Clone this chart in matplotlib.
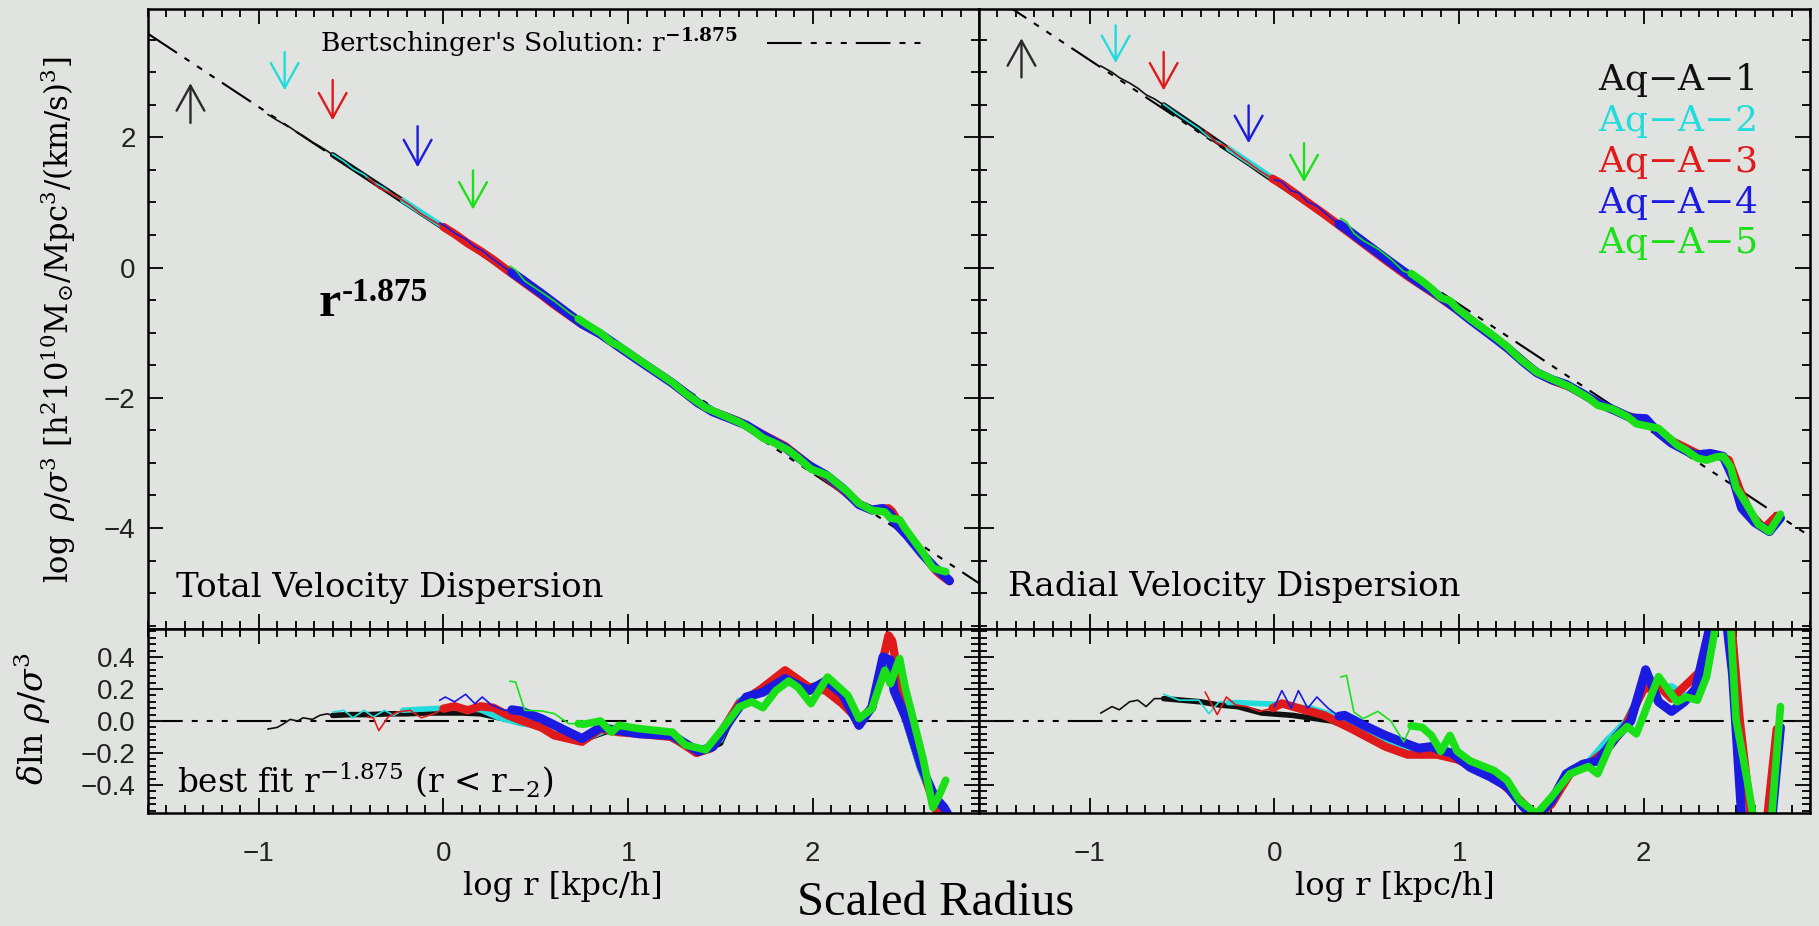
import matplotlib
matplotlib.use('Agg')
import matplotlib.pyplot as plt
import numpy as np
from matplotlib.ticker import MultipleLocator, FuncFormatter

plt.rcParams['font.family'] = 'DejaVu Serif'
plt.rcParams['mathtext.fontset'] = 'dejavuserif'
plt.rcParams['lines.scale_dashes'] = False

BG = '#e1e3e0'
COLORS = ['#101010', '#22dcdc', '#e01a1a', '#1a1ae0', '#1ae01a']
NAMES = [r'$\mathrm{Aq{-}A{-}1}$', r'$\mathrm{Aq{-}A{-}2}$', r'$\mathrm{Aq{-}A{-}3}$',
         r'$\mathrm{Aq{-}A{-}4}$', r'$\mathrm{Aq{-}A{-}5}$']
THICK_LW = [4.0, 4.0, 6.0, 6.5, 5.5]

# Bertschinger self-similar slope and normalisation at log r = 0 (total, radial)
SLOPE = -1.875
FIT_NORM = [0.59, 1.31]

# convergence radii and arrow ends (tail, head) in log rho/sigma^3
CONV_LOGR = [-1.37, -0.86, -0.60, -0.14, 0.16]
ARROW_TOT = [(2.22, 2.83), (3.31, 2.72), (2.88, 2.26), (2.17, 1.54), (1.49, 0.89)]
ARROW_RAD = [(2.92, 3.52), (3.72, 3.14), (3.31, 2.72), (2.49, 1.91), (1.91, 1.31)]

# residuals delta ln(rho/sigma^3) about the best fit, total velocity dispersion
tot_x_a1 = [-0.95, -0.90, -0.87, -0.83, -0.79, -0.76, -0.71, -0.67, -0.63, -0.60,
            -0.50, -0.40, -0.30, -0.20, -0.10, 0.00, 0.10, 0.20, 0.30, 0.40,
            0.50, 0.60, 0.75, 0.90, 1.05, 1.20, 1.30, 1.40, 1.50, 1.60,
            1.70, 1.80, 1.87, 1.95, 2.05, 2.15, 2.25, 2.32, 2.38, 2.43,
            2.50, 2.58, 2.65, 2.72]
tot_res_a1 = [-0.05, -0.04, -0.02, 0.01, 0.00, 0.02, 0.01, 0.035, 0.045, 0.035,
              0.04, 0.04, 0.045, 0.045, 0.05, 0.05, 0.05, 0.045, 0.02, 0.00,
              -0.03, -0.08, -0.12, -0.06, -0.07, -0.09, -0.15, -0.19, -0.14, 0.12,
              0.17, 0.24, 0.26, 0.20, 0.24, 0.16, -0.02, 0.08, 0.38, 0.30,
              0.00, -0.30, -0.50, -0.55]
tot_x_a2 = [-0.60, -0.54, -0.49, -0.43, -0.38, -0.32, -0.27, -0.22, -0.10, 0.00,
            0.10, 0.20, 0.30, 0.42, 0.50, 0.60, 0.75, 0.90, 1.05, 1.20,
            1.30, 1.40, 1.50, 1.60, 1.70, 1.80, 1.87, 1.95, 2.05, 2.15,
            2.25, 2.32, 2.38, 2.43, 2.50, 2.58, 2.65, 2.72]
tot_res_a2 = [0.055, 0.067, 0.02, 0.067, 0.025, 0.067, 0.035, 0.067, 0.075, 0.08,
              0.08, 0.07, 0.02, -0.017, -0.03, -0.08, -0.12, -0.05, -0.07, -0.09,
              -0.14, -0.18, -0.12, 0.13, 0.17, 0.25, 0.26, 0.20, 0.23, 0.16,
              -0.04, 0.08, 0.37, 0.30, 0.00, -0.30, -0.50, -0.55]
tot_x_a3 = [-0.41, -0.38, -0.35, -0.30, -0.25, -0.18, -0.12, -0.05, 0.00, 0.06,
            0.13, 0.20, 0.27, 0.35, 0.42, 0.53, 0.60, 0.75, 0.85, 0.95,
            1.06, 1.24, 1.37, 1.45, 1.60, 1.72, 1.85, 1.98, 2.07, 2.16,
            2.25, 2.32, 2.41, 2.43, 2.46, 2.53, 2.60, 2.66, 2.69, 2.74]
tot_res_a3 = [0.025, 0.02, -0.06, 0.025, 0.056, 0.067, 0.02, 0.046, 0.077, 0.092,
              0.067, 0.092, 0.083, 0.035, 0.004, -0.04, -0.09, -0.13, -0.05, -0.07,
              -0.08, -0.10, -0.20, -0.17, 0.108, 0.20, 0.317, 0.21, 0.19, 0.108,
              0.004, 0.08, 0.535, 0.50, 0.30, 0.004, -0.31, -0.54, -0.60, -0.62]
tot_x_a4 = [-0.02, 0.01, 0.06, 0.12, 0.17, 0.21, 0.26, 0.33, 0.37, 0.42,
            0.53, 0.64, 0.75, 0.85, 0.95, 1.06, 1.24, 1.38, 1.46, 1.55,
            1.64, 1.73, 1.85, 1.98, 2.07, 2.16, 2.25, 2.32, 2.38, 2.42,
            2.44, 2.51, 2.59, 2.66, 2.71, 2.74]
tot_res_a4 = [0.13, 0.15, 0.12, 0.167, 0.108, 0.15, 0.10, 0.067, 0.07, 0.062,
              0.015, -0.048, -0.11, -0.04, -0.06, -0.08, -0.09, -0.19, -0.16, 0.00,
              0.15, 0.18, 0.265, 0.19, 0.25, 0.17, -0.027, 0.087, 0.40, 0.38,
              0.19, 0.004, -0.29, -0.475, -0.54, -0.60]
tot_x_a5 = [0.36, 0.39, 0.44, 0.53, 0.60, 0.68, 0.73, 0.76, 0.85, 0.91,
            0.95, 1.06, 1.24, 1.31, 1.42, 1.49, 1.60, 1.67, 1.73, 1.80,
            1.87, 1.92, 1.99, 2.08, 2.19, 2.25, 2.32, 2.39, 2.42, 2.47,
            2.50, 2.55, 2.60, 2.65, 2.68, 2.72]
tot_res_a5 = [0.248, 0.244, 0.067, 0.063, 0.046, -0.017, -0.017, -0.02, 0.00, -0.07,
              -0.027, -0.048, -0.07, -0.15, -0.18, -0.08, 0.087, 0.12, 0.083, 0.19,
              0.25, 0.21, 0.108, 0.275, 0.16, 0.015, 0.077, 0.317, 0.233, 0.39,
              0.21, -0.017, -0.25, -0.54, -0.475, -0.37]
TOT_THICK_FROM = [-0.60, -0.22, 0.00, 0.37, 0.73]

# same for the radial velocity dispersion
rad_x_a1 = [-0.94, -0.88, -0.84, -0.785, -0.74, -0.695, -0.65, -0.60, -0.50, -0.40,
            -0.30, -0.20, -0.07, 0.10, 0.31, 0.42, 0.60, 0.72, 0.85, 1.00,
            1.10, 1.20, 1.30, 1.42, 1.50, 1.60, 1.70, 1.80, 1.90, 2.00,
            2.08, 2.15, 2.25, 2.34, 2.40, 2.46, 2.52, 2.58, 2.65, 2.72]
rad_res_a1 = [0.05, 0.09, 0.07, 0.12, 0.13, 0.09, 0.14, 0.14, 0.13, 0.12,
              0.10, 0.09, 0.05, 0.035, 0.00, -0.05, -0.14, -0.19, -0.20, -0.25,
              -0.30, -0.36, -0.46, -0.60, -0.50, -0.32, -0.26, -0.12, -0.02, 0.22,
              0.20, 0.20, 0.15, 0.30, 0.70, 0.80, 0.00, -0.60, -0.80, -0.05]
rad_x_a2 = [-0.60, -0.515, -0.41, -0.355, -0.30, -0.25, -0.20, -0.10, 0.00, 0.10,
            0.20, 0.31, 0.42, 0.60, 0.72, 0.88, 1.00, 1.10, 1.20, 1.30,
            1.42, 1.50, 1.60, 1.70, 1.80, 1.90, 2.00, 2.08, 2.15, 2.25,
            2.34, 2.40, 2.46, 2.52, 2.58, 2.65, 2.72]
rad_res_a2 = [0.167, 0.13, 0.13, 0.046, 0.12, 0.115, 0.115, 0.11, 0.105, 0.09,
              0.08, 0.04, -0.03, -0.13, -0.18, -0.20, -0.24, -0.30, -0.36, -0.46,
              -0.60, -0.50, -0.30, -0.25, -0.12, 0.00, 0.22, 0.20, 0.22, 0.15,
              0.30, 0.70, 0.80, 0.00, -0.60, -0.80, -0.05]
rad_x_a3 = [-0.375, -0.31, -0.26, -0.21, -0.15, -0.08, -0.01, 0.04, 0.13, 0.27,
            0.42, 0.60, 0.72, 0.88, 0.99, 1.10, 1.20, 1.30, 1.42, 1.50,
            1.60, 1.70, 1.80, 1.90, 2.00, 2.08, 2.15, 2.26, 2.34, 2.40,
            2.46, 2.52, 2.58, 2.65, 2.72]
rad_res_a3 = [0.18, 0.04, 0.15, 0.10, 0.09, 0.06, 0.08, 0.11, 0.08, 0.035,
              -0.05, -0.16, -0.21, -0.21, -0.24, -0.30, -0.36, -0.46, -0.60, -0.52,
              -0.33, -0.27, -0.18, -0.03, 0.20, 0.22, 0.14, 0.26, 0.35, 0.70,
              0.80, 0.00, -0.60, -0.80, -0.05]
rad_x_a4 = [0.00, 0.04, 0.09, 0.13, 0.18, 0.23, 0.29, 0.35, 0.38, 0.49,
            0.60, 0.71, 0.78, 0.85, 0.89, 0.96, 1.06, 1.17, 1.26, 1.35,
            1.42, 1.50, 1.58, 1.67, 1.75, 1.85, 1.93, 2.01, 2.08, 2.15,
            2.22, 2.28, 2.36, 2.43, 2.48, 2.53, 2.60, 2.68, 2.74]
rad_res_a4 = [0.09, 0.19, 0.08, 0.19, 0.08, 0.15, 0.08, 0.03, 0.035, -0.03,
              -0.09, -0.14, -0.17, -0.16, -0.18, -0.20, -0.29, -0.35, -0.41, -0.54,
              -0.60, -0.50, -0.33, -0.27, -0.25, -0.10, 0.00, 0.32, 0.12, 0.06,
              0.12, 0.20, 0.60, 0.80, 0.30, -0.60, -0.80, -0.78, -0.04]
rad_x_a5 = [0.36, 0.39, 0.43, 0.48, 0.56, 0.63, 0.70, 0.74, 0.80, 0.85,
            0.90, 0.95, 0.99, 1.06, 1.19, 1.26, 1.33, 1.42, 1.50, 1.60,
            1.70, 1.75, 1.83, 1.91, 1.96, 2.08, 2.18, 2.23, 2.29, 2.34,
            2.39, 2.43, 2.47, 2.50, 2.56, 2.62, 2.68, 2.74]
rad_res_a5 = [0.275, 0.285, 0.056, 0.015, 0.06, 0.00, -0.13, -0.03, -0.04, -0.09,
              -0.19, -0.09, -0.19, -0.25, -0.31, -0.37, -0.50, -0.58, -0.475, -0.33,
              -0.285, -0.33, -0.12, -0.035, -0.08, 0.277, 0.12, 0.15, 0.13, 0.277,
              0.60, 0.80, 0.60, 0.006, -0.37, -0.78, -0.78, 0.09]
RAD_THICK_FROM = [-0.60, -0.25, -0.01, 0.35, 0.74]

TOT = [(tot_x_a1, tot_res_a1), (tot_x_a2, tot_res_a2), (tot_x_a3, tot_res_a3),
       (tot_x_a4, tot_res_a4), (tot_x_a5, tot_res_a5)]
RAD = [(rad_x_a1, rad_res_a1), (rad_x_a2, rad_res_a2), (rad_x_a3, rad_res_a3),
       (rad_x_a4, rad_res_a4), (rad_x_a5, rad_res_a5)]

# long dash followed by three short ones
DASH = (0, (25, 6.5, 4.3, 6.5, 4.3, 6.5, 4.3, 6.5))


def draw_profile(ax, x, y, x_thick, color, lw_thick):
    x = np.asarray(x)
    y = np.asarray(y)
    thin = x <= x_thick
    thick = x >= x_thick
    ax.plot(x[thin], y[thin], color=color, lw=1.2, solid_joinstyle='round')
    ax.plot(x[thick], y[thick], color=color, lw=lw_thick,
            solid_capstyle='round', solid_joinstyle='round')


def style_axes(ax, ylim, ymaj, ymin):
    ax.set_facecolor(BG)
    for s in ax.spines.values():
        s.set_linewidth(1.8)
    ax.set_xlim(-1.6, 2.9)
    ax.set_ylim(*ylim)
    ax.xaxis.set_major_locator(MultipleLocator(1))
    ax.xaxis.set_minor_locator(MultipleLocator(0.1))
    ax.yaxis.set_major_locator(MultipleLocator(ymaj))
    ax.yaxis.set_minor_locator(MultipleLocator(ymin))
    ax.tick_params(which='both', direction='in', top=True, right=True,
                   width=1.4, color='#111111', labelsize=20,
                   labelfontfamily='Liberation Sans', labelcolor='#222222')
    ax.tick_params(which='major', length=11)
    ax.tick_params(which='minor', length=5.5)


def fmt_int(v, pos):
    return f'{v:.0f}'.replace('-', '\u2212')


def fmt_dec(v, pos):
    s = f'{abs(v):.1f}'
    return '\u2212' + s if v < -1e-9 else s


W, H = 1819, 926
fig = plt.figure(figsize=(W / 100, H / 100), dpi=100, facecolor=BG)
xl, xm, xr = 148 / W, 979 / W, 1810 / W
yt, ym, yb = 1 - 9 / H, 1 - 629 / H, 1 - 813 / H
ax_tl = fig.add_axes([xl, ym, xm - xl, yt - ym])
ax_tr = fig.add_axes([xm, ym, xr - xm, yt - ym])
ax_bl = fig.add_axes([xl, yb, xm - xl, ym - yb])
ax_br = fig.add_axes([xm, yb, xr - xm, ym - yb])

for ax in (ax_tl, ax_tr):
    style_axes(ax, (-5.55, 3.97), 2, 0.5)
for ax in (ax_bl, ax_br):
    style_axes(ax, (-0.575, 0.575), 0.2, 0.04)

for ax in (ax_tl, ax_tr, ax_br):
    ax.tick_params(labelbottom=False)
for ax in (ax_tr, ax_br):
    ax.tick_params(labelleft=False)
ax_tl.tick_params(labelbottom=False, pad=9)
ax_tl.yaxis.set_major_formatter(FuncFormatter(fmt_int))
ax_bl.yaxis.set_major_formatter(FuncFormatter(fmt_dec))
ax_bl.xaxis.set_major_formatter(FuncFormatter(fmt_int))
ax_br.xaxis.set_major_formatter(FuncFormatter(fmt_int))
ax_bl.tick_params(axis='y', pad=9)
ax_br.tick_params(axis='x', labelbottom=True, pad=20)
ax_bl.tick_params(axis='x', pad=20)

xline = np.array([-1.6, 2.9])
for k, (ax_top, ax_bot, data, thick_from, arrows) in enumerate(
        [(ax_tl, ax_bl, TOT, TOT_THICK_FROM, ARROW_TOT),
         (ax_tr, ax_br, RAD, RAD_THICK_FROM, ARROW_RAD)]):
    norm = FIT_NORM[k]
    ax_top.plot(xline, norm + SLOPE * xline, color='k', lw=1.5, ls=DASH, zorder=1)
    ax_bot.plot(xline, [0, 0], color='k', lw=1.5, ls=DASH, zorder=1)
    for i, (x, res) in enumerate(data):
        x = np.asarray(x)
        res = np.asarray(res)
        top = norm + SLOPE * x + res / np.log(10)
        draw_profile(ax_top, x, top, thick_from[i], COLORS[i], THICK_LW[i])
        draw_profile(ax_bot, x, res, thick_from[i], COLORS[i], THICK_LW[i])
        tail, head = arrows[i]
        ax_top.annotate('', xy=(CONV_LOGR[i], head), xytext=(CONV_LOGR[i], tail),
                        arrowprops=dict(arrowstyle='->,head_length=0.9,head_width=0.5',
                                        color=COLORS[i] if i else '#2a2a2a', lw=1.7,
                                        mutation_scale=20, shrinkA=0, shrinkB=0))

# legend of the simulations
for i, name in enumerate(NAMES):
    ax_tr.text(0.745, 0.885 - 0.066 * i, name, color=COLORS[i], fontsize=26,
               va='center', transform=ax_tr.transAxes)

ax_tl.text(0.207, 0.945, r"Bertschinger's Solution: r$^{\mathbf{-1.875}}$",
           fontsize=19, va='center', transform=ax_tl.transAxes)
ax_tl.plot([0.745, 0.933], [0.945, 0.945], color='k', lw=1.5, ls=DASH,
           transform=ax_tl.transAxes)
ax_tl.text(0.034, 0.052, 'Total Velocity Dispersion', fontsize=24.5,
           va='baseline', transform=ax_tl.transAxes)
ax_tr.text(0.035, 0.053, 'Radial Velocity Dispersion', fontsize=24.5,
           va='baseline', transform=ax_tr.transAxes)
ax_bl.text(0.035, 0.114, r'best fit r$^{-1.875}$ (r < r$_{-2}$)', fontsize=23.5,
           va='baseline', transform=ax_bl.transAxes)

ax_tl.text(-0.676, -0.75, 'r', family='Liberation Serif', weight='bold',
           fontsize=36, va='baseline')
ax_tl.text(-0.55, -0.51, '-1.875', family='Liberation Serif', weight='bold',
           fontsize=24, va='baseline')

fig.text(58 / W, 1 - 320 / H,
         r'$\log\ \rho/\sigma^3\ [\mathrm{h^2 10^{10} M_{\odot}/Mpc^3/(km/s)^3}]$',
         rotation=90, ha='center', va='center', fontsize=22)
fig.text(32 / W, 1 - 718 / H, r'$\delta\mathrm{ln}\ \rho/\sigma^3$',
         rotation=90, ha='center', va='center', fontsize=24)
fig.text(563 / W, 1 - 887 / H, 'log r [kpc/h]', ha='center', va='center', fontsize=23)
fig.text(1395 / W, 1 - 887 / H, 'log r [kpc/h]', ha='center', va='center', fontsize=23)
fig.text(936 / W, 1 / H, 'Scaled Radius', family='Liberation Serif',
         fontsize=35, ha='center', va='bottom')

fig.savefig('out.png', dpi=100, facecolor=BG)
